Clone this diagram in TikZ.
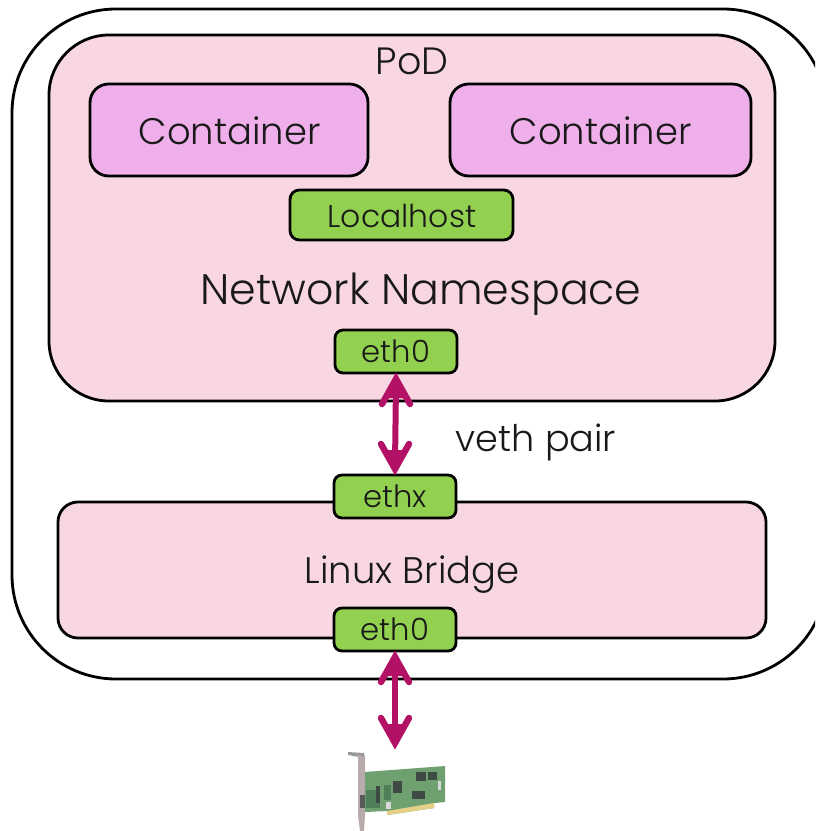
\documentclass[tikz,border=0pt]{standalone}
\usepackage{fontspec}
\setmainfont{Poppins Light}
\definecolor{podpink}{HTML}{F9D7E2}
\definecolor{contpink}{HTML}{EEAFEA}
\definecolor{nicgreen}{HTML}{92D14F}
\definecolor{arrowmag}{HTML}{B31166}
\definecolor{pcb}{HTML}{6FA070}
\definecolor{pcbdark}{HTML}{4F7F58}
\definecolor{bracket}{HTML}{B9ABAB}
\definecolor{gold}{HTML}{E6CF86}
\definecolor{chip}{HTML}{3F4A44}
\tikzset{
 x=0.75pt,y=-0.75pt,
 box/.style={draw=black,line width=2.1pt,fill=#1,inner sep=0pt,outer sep=0pt},
 lab/.style={text=black!90,inner sep=0pt,anchor=base},
 link/.style={draw=arrowmag,line width=4.5pt},
 wing/.style={draw=arrowmag,line width=4.8pt,line cap=round,line join=miter,miter limit=10}
}
\newcommand{\rrect}[6]{\node[box=#1,rounded corners=#6,minimum width=#4*0.75pt,minimum height=#5*0.75pt,anchor=north west] (#2) at #3 {};}
\newcommand{\headdown}[1]{\draw[wing,shift={(#1)}] (-14,31) -- (0,6) -- (14,31);\fill[arrowmag,shift={(#1)}] (0,6) -- (-9,25) -- (9,25) -- cycle;}
\newcommand{\headup}[1]{\draw[wing,shift={(#1)}] (-14,-31) -- (0,-6) -- (14,-31);\fill[arrowmag,shift={(#1)}] (0,-6) -- (-9,-25) -- (9,-25) -- cycle;}
\begin{document}
\begin{tikzpicture}
\useasboundingbox (0,0) rectangle (815,831);
\begin{scope}
\clip (0,0) rectangle (815,831);
\rrect{white}{outer}{(12,9)}{815}{670}{78pt}
\end{scope}
\rrect{podpink}{pod}{(49,35)}{726}{366}{45pt}
\rrect{contpink}{c1}{(90,84)}{278}{92}{14pt}
\rrect{contpink}{c2}{(450,84)}{301}{92}{14pt}
\rrect{nicgreen}{lo}{(290,190)}{223}{50}{7pt}
\rrect{nicgreen}{e0}{(335,330)}{122}{43}{6pt}
\rrect{podpink}{br}{(58,502)}{708}{136}{15pt}
\rrect{nicgreen}{ex}{(334,475)}{122}{43}{6pt}
\rrect{nicgreen}{e1}{(334,608)}{122}{43}{6pt}
\coordinate (nic) at (395,749);
\draw[link] ([yshift=-8pt]e0.south) -- ([yshift=8pt]ex.north);
\headdown{e0.south}
\headup{ex.north}
\draw[link] ([yshift=-8pt]e1.south) -- ([yshift=8pt]nic);
\headdown{e1.south}
\headup{nic}
\node[lab,font=\fontsize{28.5}{30}\selectfont] at (412,75) {PoD};
\node[lab,font=\fontsize{27.7}{30}\selectfont] at (229.5,145) {Container};
\node[lab,font=\fontsize{27.7}{30}\selectfont] at (600.5,145) {Container};
\node[lab,font=\fontsize{23.6}{26}\selectfont] at (402,227) {Localhost};
\node[lab,font=\fontsize{32}{36}\selectfont] at (421,304) {Network Namespace};
\node[lab,font=\fontsize{23}{26}\selectfont] at (396,362) {eth0};
\node[lab,font=\fontsize{27.5}{30}\selectfont] at (536,451) {veth pair};
\node[lab,font=\fontsize{23}{26}\selectfont] at (395,507) {ethx};
\node[lab,font=\fontsize{27.7}{30}\selectfont] at (412,583) {Linux Bridge};
\node[lab,font=\fontsize{23}{26}\selectfont] at (395,640) {eth0};
% network card
\fill[black!40] (348,752) -- (364,753) -- (365,758) -- (348,755) -- cycle;
\fill[bracket] (358,755) -- (365,757) -- (365,815) -- (364,831) -- (360,831) -- (358,815) -- cycle;
\fill[black!65] (360,795) rectangle (365,808);
\fill[pcb] (365,772) -- (445,766) -- (445,802) -- (434,803) -- (434,808) -- (387,815) -- (387,811) -- (365,812) -- cycle;
\fill[pcbdark] (366,790) rectangle (380,808);
\fill[gold] (387,811) -- (434,803) -- (434,808) -- (387,815) -- cycle;
\fill[chip] (393,781) rectangle (402,793);
\fill[chip] (412,791) rectangle (425,799);
\fill[chip] (416,772) rectangle (426,781);
\fill[chip] (428,772) rectangle (437,780);
\fill[chip] (376,786) rectangle (380,803);
\fill[pcbdark] (384,785) rectangle (391,800);
\fill[white!85!black] (386,802) rectangle (391,809);
\fill[white!85!black] (438,781) rectangle (441,790);
\end{tikzpicture}
\end{document}
